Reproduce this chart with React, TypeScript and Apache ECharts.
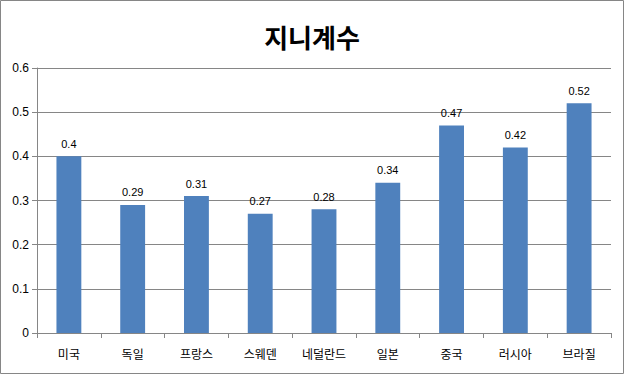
import React, { useEffect, useRef } from "react";
import * as echarts from "echarts";

const categories = ["미국", "독일", "프랑스", "스웨덴", "네덜란드", "일본", "중국", "러시아", "브라질"];
const giniValues = [0.4, 0.29, 0.31, 0.27, 0.28, 0.34, 0.47, 0.42, 0.52];
const titleText = "지니계수";

const FONT = "'Liberation Sans', 'Noto Sans CJK KR', sans-serif";
const KFONT = "'Noto Sans CJK KR', 'Liberation Sans', sans-serif";

export default function App() {
  const ref = useRef<HTMLDivElement>(null);
  useEffect(() => {
    if (!ref.current) return;
    const chart = echarts.init(ref.current, null, { renderer: "svg" });
    chart.setOption({
      animation: false,
      backgroundColor: "#fff",
      title: {
        text: titleText,
        left: "center",
        top: 18,
        textStyle: { fontFamily: KFONT, fontSize: 26, fontWeight: "bold", color: "#000" },
      },
      graphic: [
        {
          type: "rect",
          shape: { x: 0.5, y: 0.5, width: 623, height: 373 },
          style: { fill: "none", stroke: "#868686", lineWidth: 1 },
          silent: true,
        },
      ],
      grid: { left: 37, right: 13, top: 68, bottom: 41, containLabel: false },
      xAxis: {
        type: "category",
        data: categories,
        axisLine: { lineStyle: { color: "#868686" } },
        axisTick: { show: true, length: 5, lineStyle: { color: "#868686" }, alignWithLabel: false },
        axisLabel: { fontFamily: KFONT, fontSize: 12, color: "#000", margin: 14 },
      },
      yAxis: {
        type: "value",
        min: 0,
        max: 0.6,
        interval: 0.1,
        axisLine: { show: true, lineStyle: { color: "#868686" } },
        axisTick: { show: true, length: 5, lineStyle: { color: "#868686" } },
        axisLabel: { fontFamily: FONT, fontSize: 12, color: "#000", margin: 8 },
        splitLine: { show: true, lineStyle: { color: "#868686" } },
      },
      series: [
        {
          type: "bar",
          data: giniValues,
          barWidth: "39%",
          itemStyle: { color: "#4F81BD" },
          label: {
            show: true,
            position: "top",
            distance: 7,
            fontFamily: FONT,
            fontSize: 11,
            color: "#000",
          },
        },
      ],
    });
    return () => chart.dispose();
  }, []);
  return (
    <div
      ref={ref}
      style={{ position: "fixed", left: 0, top: 0, width: 624, height: 374 }}
    />
  );
}
